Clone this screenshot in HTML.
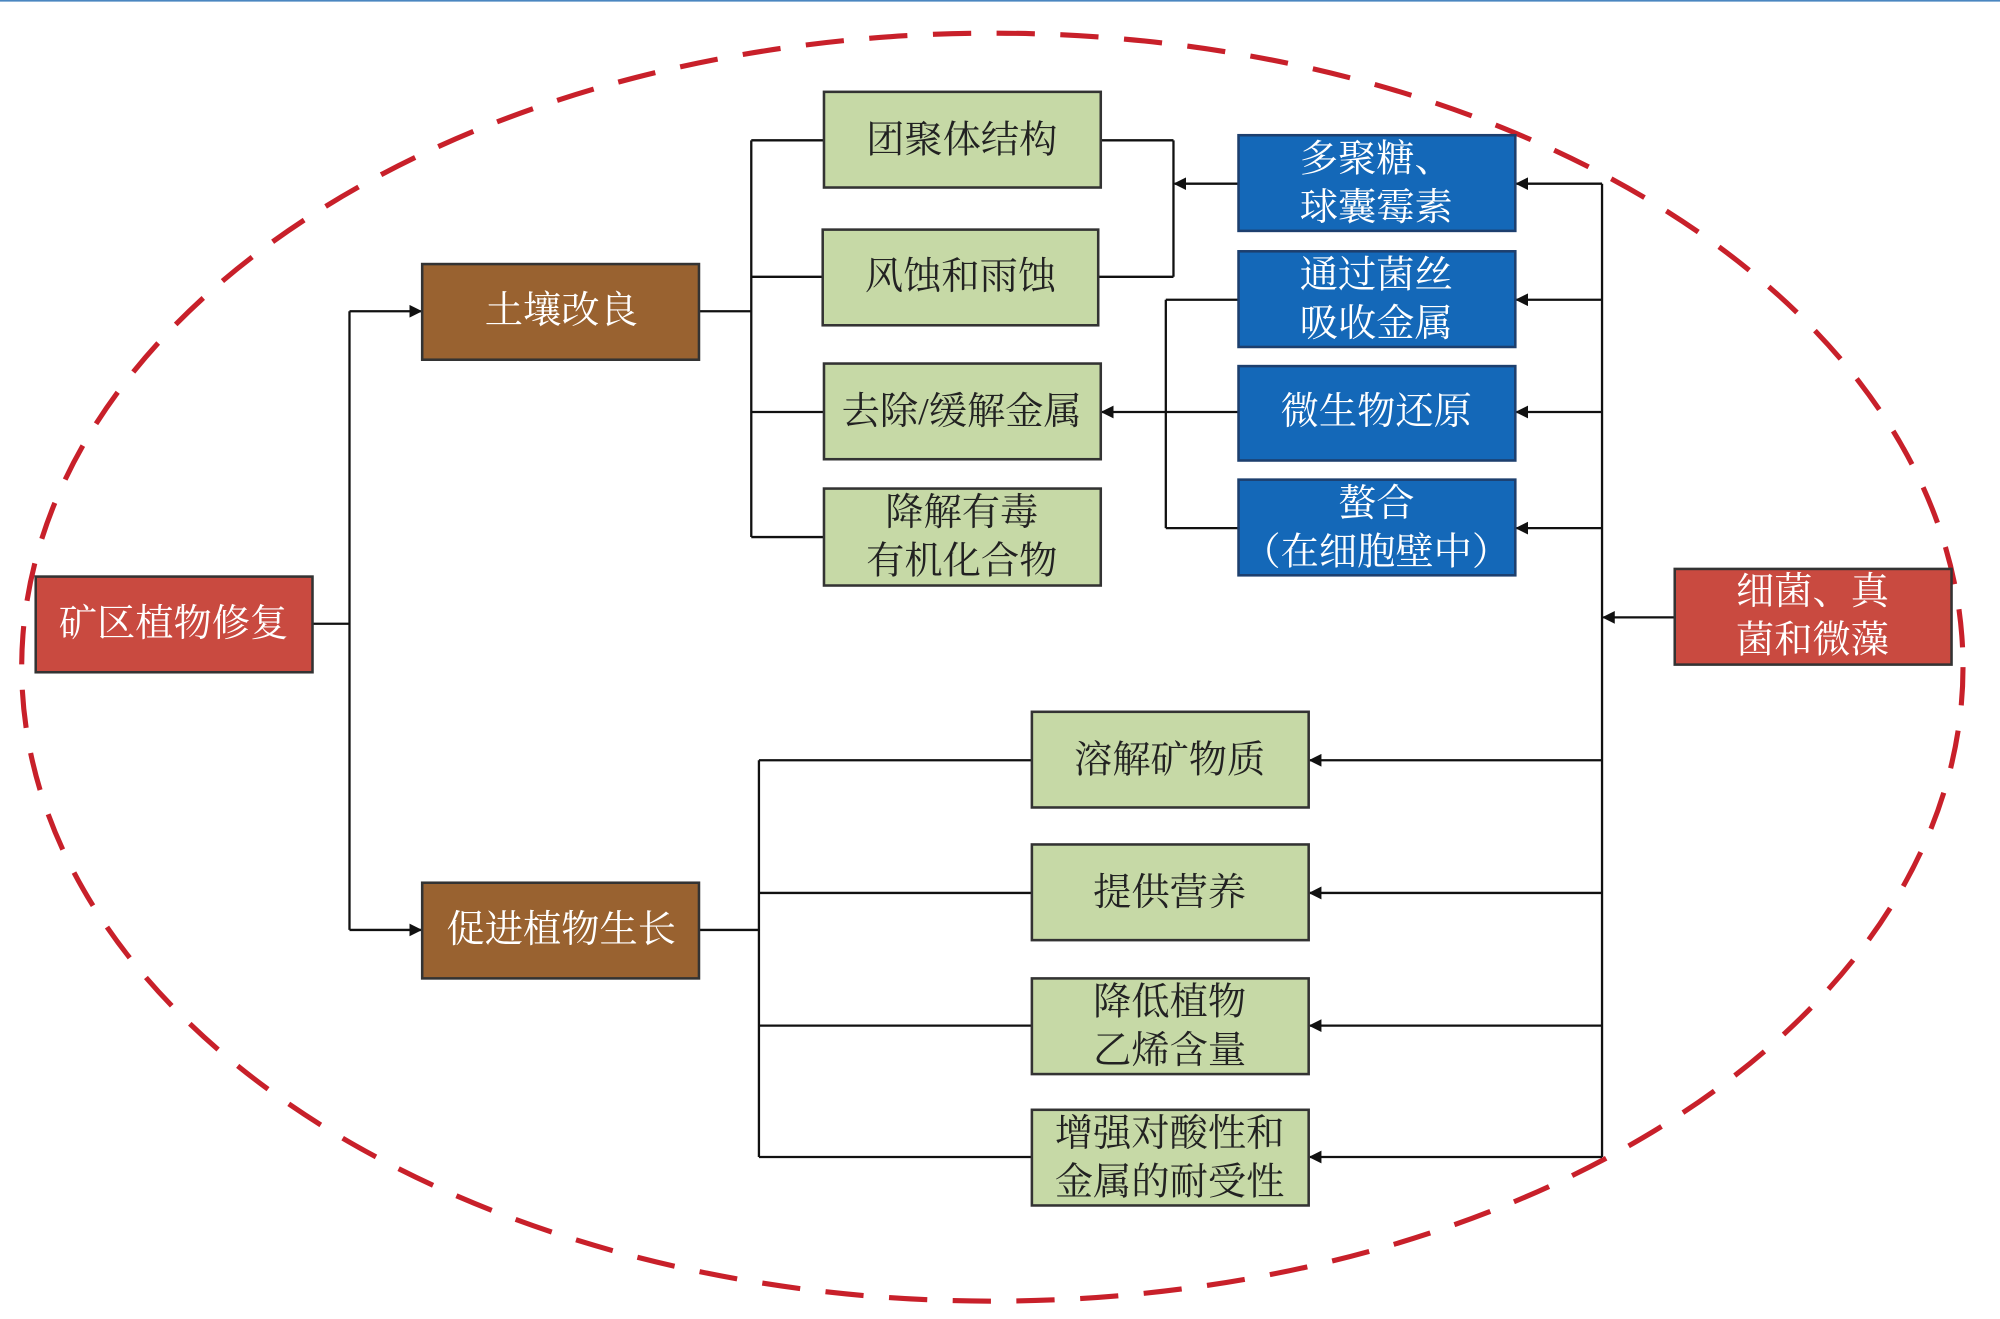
<!DOCTYPE html>
<html><head><meta charset="utf-8"><style>
html,body{margin:0;padding:0;background:#fff;}
svg{display:block;}
text{font-family:"Liberation Serif","Noto Serif CJK SC",serif;font-size:30px;text-anchor:middle;dominant-baseline:central;}
.w{fill:#fff}.d{fill:#222}
</style></head><body>
<svg width="2000" height="1319" viewBox="0 0 1568 1034" preserveAspectRatio="none" xmlns="http://www.w3.org/2000/svg">
<defs><marker id="a" markerWidth="10" markerHeight="10" refX="9" refY="5" orient="auto" markerUnits="userSpaceOnUse"><path d="M0,0 L10,5 L0,10 z" fill="#111"/></marker></defs>
<rect width="1568" height="1034" fill="#fff"/>
<line x1="0" y1="0.5" x2="1568" y2="0.5" stroke="#4a86c0" stroke-width="1.5"/>
<ellipse cx="778" cy="523" rx="761" ry="497" fill="none" stroke="#c8202a" stroke-width="4" stroke-dasharray="30 20"/>
<g stroke="#111" stroke-width="1.8" fill="none">
<path d="M245 489H274M274 244V729"/>
<path d="M274 244H330" marker-end="url(#a)"/><path d="M274 729H330" marker-end="url(#a)"/>
<path d="M548 244H589M589 110V421M589 110H646M589 217H645M589 323H646M589 421H646"/>
<path d="M863 110H920M861 217H920M920 110V217"/>
<path d="M971 144H921" marker-end="url(#a)"/>
<path d="M971 235H914M914 235V414M914 414H971M971 323H914"/>
<path d="M914 323H864" marker-end="url(#a)"/>
<path d="M1256 144V907"/>
<path d="M1256 144H1189" marker-end="url(#a)"/><path d="M1256 235H1189" marker-end="url(#a)"/><path d="M1256 323H1189" marker-end="url(#a)"/><path d="M1256 414H1189" marker-end="url(#a)"/>
<path d="M1313 484H1257" marker-end="url(#a)"/>
<path d="M1256 596H1027" marker-end="url(#a)"/><path d="M1256 700H1027" marker-end="url(#a)"/><path d="M1256 804H1027" marker-end="url(#a)"/><path d="M1256 907H1027" marker-end="url(#a)"/>
<path d="M548 729H595M595 596V907M595 596H809M595 700H809M595 804H809M595 907H809"/>
</g>
<g stroke="#333" stroke-width="2">
<rect x="28" y="452" width="217" height="75" fill="#c94a40"/>
<rect x="1313" y="446" width="217" height="75" fill="#c94a40"/>
<rect x="331" y="207" width="217" height="75" fill="#996230"/>
<rect x="331" y="692" width="217" height="75" fill="#996230"/>
<g fill="#c6d9a6">
<rect x="646" y="72" width="217" height="75"/>
<rect x="645" y="180" width="216" height="75"/>
<rect x="646" y="285" width="217" height="75"/>
<rect x="646" y="383" width="217" height="76"/>
<rect x="809" y="558" width="217" height="75"/>
<rect x="809" y="662" width="217" height="75"/>
<rect x="809" y="767" width="217" height="75"/>
<rect x="809" y="870" width="217" height="75"/>
</g>
<g fill="#1468b8" stroke="#1d3f6e">
<rect x="971" y="106" width="217" height="75"/>
<rect x="971" y="197" width="217" height="75"/>
<rect x="971" y="287" width="217" height="74"/>
<rect x="971" y="376" width="217" height="75"/>
</g>
</g>
<text class="w" x="136" y="489">矿区植物修复</text>
<text class="w" x="1421" y="464">细菌、真</text><text class="w" x="1421" y="502">菌和微藻</text>
<text class="w" x="440" y="244">土壤改良</text>
<text class="w" x="440" y="729">促进植物生长</text>
<text class="d" x="754" y="110">团聚体结构</text>
<text class="d" x="753" y="217">风蚀和雨蚀</text>
<text class="d" x="754" y="323">去除/缓解金属</text>
<text class="d" x="754" y="402">降解有毒</text><text class="d" x="754" y="440">有机化合物</text>
<text class="w" x="1079" y="125">多聚糖、</text><text class="w" x="1079" y="163">球囊霉素</text>
<text class="w" x="1079" y="216">通过菌丝</text><text class="w" x="1079" y="254">吸收金属</text>
<text class="w" x="1079" y="323">微生物还原</text>
<text class="w" x="1079" y="395">螯合</text><text class="w" x="1079" y="433">（在细胞壁中）</text>
<text class="d" x="917" y="596">溶解矿物质</text>
<text class="d" x="917" y="700">提供营养</text>
<text class="d" x="917" y="786">降低植物</text><text class="d" x="917" y="824">乙烯含量</text>
<text class="d" x="917" y="889">增强对酸性和</text><text class="d" x="917" y="927">金属的耐受性</text>
</svg>
</body></html>
